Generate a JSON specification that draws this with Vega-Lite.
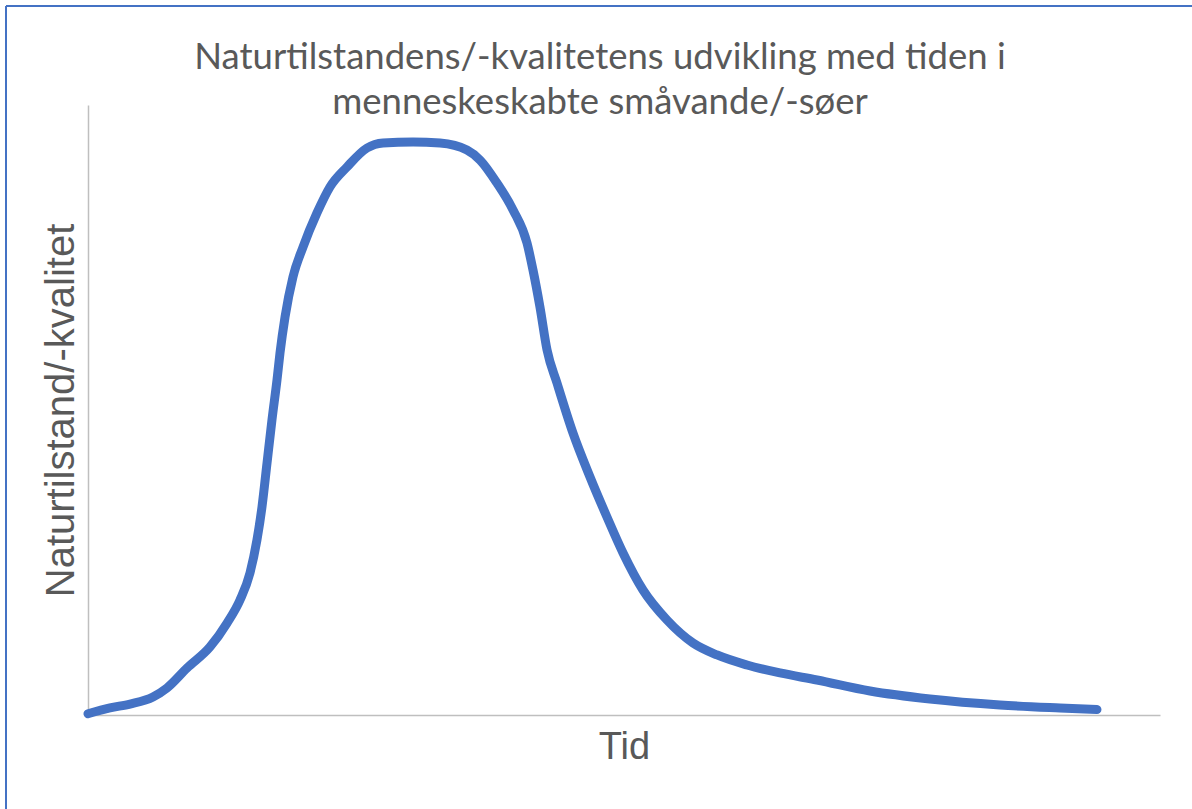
{
  "$schema": "https://vega.github.io/schema/vega-lite/v6.json",
  "width": 1072,
  "height": 610,
  "autosize": {"type": "none"},
  "padding": {"left": 88, "top": 105, "right": 32, "bottom": 94},
  "background": "white",
  "config": {"view": {"stroke": null}},
  "title": {
    "text": ["Naturtilstandens/-kvalitetens udvikling med tiden i", "menneskeskabte småvande/-søer"],
    "font": "Lato",
    "fontSize": 36.5,
    "fontWeight": "normal",
    "color": "#595959",
    "anchor": "middle",
    "frame": "group",
    "baseline": "alphabetic",
    "lineHeight": 45,
    "offset": -146,
    "dx": -24
  },
  "data": {
    "values": [
      {"tid": 0, "kvalitet": 0.2},
      {"tid": 2.05, "kvalitet": 1.15},
      {"tid": 3.92, "kvalitet": 1.8},
      {"tid": 6.06, "kvalitet": 2.95},
      {"tid": 7.37, "kvalitet": 4.43},
      {"tid": 9.24, "kvalitet": 7.7},
      {"tid": 11.38, "kvalitet": 11.15},
      {"tid": 12.97, "kvalitet": 15.08},
      {"tid": 14.18, "kvalitet": 18.85},
      {"tid": 15.11, "kvalitet": 23.28},
      {"tid": 15.76, "kvalitet": 28.69},
      {"tid": 16.23, "kvalitet": 34.1},
      {"tid": 16.7, "kvalitet": 41.31},
      {"tid": 17.16, "kvalitet": 48.36},
      {"tid": 17.63, "kvalitet": 54.92},
      {"tid": 17.91, "kvalitet": 59.34},
      {"tid": 18.38, "kvalitet": 65.25},
      {"tid": 19.12, "kvalitet": 71.8},
      {"tid": 20.06, "kvalitet": 76.72},
      {"tid": 21.36, "kvalitet": 82.3},
      {"tid": 22.57, "kvalitet": 86.56},
      {"tid": 24.16, "kvalitet": 89.84},
      {"tid": 26.03, "kvalitet": 92.95},
      {"tid": 27.52, "kvalitet": 93.77},
      {"tid": 30.32, "kvalitet": 93.93},
      {"tid": 32.84, "kvalitet": 93.77},
      {"tid": 35.35, "kvalitet": 92.62},
      {"tid": 36.57, "kvalitet": 90.98},
      {"tid": 38.15, "kvalitet": 87.21},
      {"tid": 39.65, "kvalitet": 82.79},
      {"tid": 40.95, "kvalitet": 77.38},
      {"tid": 41.51, "kvalitet": 72.95},
      {"tid": 42.16, "kvalitet": 66.89},
      {"tid": 42.82, "kvalitet": 59.84},
      {"tid": 43.75, "kvalitet": 54.43},
      {"tid": 45.24, "kvalitet": 46.23},
      {"tid": 46.83, "kvalitet": 39.02},
      {"tid": 48.41, "kvalitet": 32.46},
      {"tid": 49.91, "kvalitet": 26.56},
      {"tid": 51.77, "kvalitet": 20.49},
      {"tid": 54.01, "kvalitet": 15.57},
      {"tid": 56.44, "kvalitet": 11.8},
      {"tid": 58.68, "kvalitet": 9.84},
      {"tid": 61.47, "kvalitet": 8.2},
      {"tid": 64.55, "kvalitet": 6.89},
      {"tid": 68.0, "kvalitet": 5.74},
      {"tid": 72.95, "kvalitet": 3.93},
      {"tid": 78.54, "kvalitet": 2.62},
      {"tid": 85.07, "kvalitet": 1.64},
      {"tid": 90.67, "kvalitet": 1.15},
      {"tid": 94.12, "kvalitet": 0.9}
    ]
  },
  "layer": [
    {
      "mark": {"type": "line", "color": "#4472C4", "strokeWidth": 9, "interpolate": "monotone", "strokeCap": "round", "strokeJoin": "round"},
      "encoding": {
        "x": {
          "field": "tid",
          "type": "quantitative",
          "scale": {"domain": [0, 100], "nice": false, "zero": false},
          "axis": {
            "title": "Tid",
            "labels": false,
            "ticks": false,
            "grid": false,
            "domainColor": "#BFBFBF",
            "domainWidth": 1.5,
            "titleFont": "Liberation Sans",
            "titleFontSize": 38,
            "titleFontWeight": "normal",
            "titleColor": "#595959",
            "titlePadding": 13
          }
        },
        "y": {
          "field": "kvalitet",
          "type": "quantitative",
          "scale": {"domain": [0, 100], "nice": false, "zero": false},
          "axis": {
            "title": "Naturtilstand/-kvalitet",
            "labels": false,
            "ticks": false,
            "grid": false,
            "domainColor": "#BFBFBF",
            "domainWidth": 1.5,
            "titleFont": "Liberation Sans",
            "titleFontSize": 40,
            "titleFontWeight": "normal",
            "titleColor": "#595959",
            "titlePadding": 7
          }
        }
      }
    },
    {
      "mark": {"type": "rule", "color": "#4472C4", "strokeWidth": 2},
      "encoding": {
        "x": {"datum": -7.649, "type": "quantitative"},
        "y": {"datum": 116.23, "type": "quantitative"},
        "y2": {"datum": -20}
      }
    },
    {
      "mark": {"type": "rule", "color": "#4472C4", "strokeWidth": 2},
      "encoding": {
        "y": {"datum": 116.23, "type": "quantitative"},
        "x": {"datum": -7.649, "type": "quantitative"},
        "x2": {"datum": 106}
      }
    }
  ]
}
